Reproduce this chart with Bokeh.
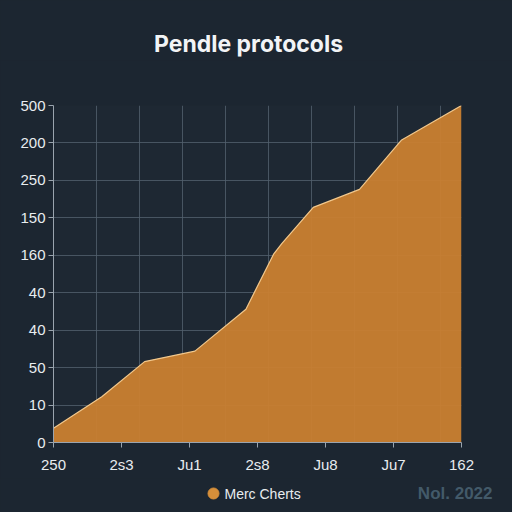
from bokeh.plotting import figure
from bokeh.layouts import column
from bokeh.models import FixedTicker, Range1d, Grid, ColumnDataSource
from bokeh.core.properties import value
from bokeh.embed import file_html
from bokeh.resources import INLINE

# ---- data ----
title_text = "Pendle protocols"
series_name = "Merc Cherts"
footer_text = "Nol. 2022"
x_tick_labels = ["250", "2s3", "Ju1", "2s8", "Ju8", "Ju7", "162"]
y_tick_labels = ["0", "10", "50", "40", "40", "160", "150", "250", "200", "500"]
x_vals = [0.0, 0.71, 1.34, 2.08, 2.83, 3.24, 3.36, 3.82, 4.50, 5.12, 6.0]
y_vals = [19, 61, 108, 122, 178, 252, 266, 314, 338, 404, 450]

# ---- styles ----
BG = "#1c2631"
FRAME_BG = "#1e2833"
GRID = "#52606e"
AXIS = "#9aa4ae"
TEXT = "#e8ecef"
FILL = "#ca8030"
EDGE = "#f2c88c"
DOT = "#d68f3a"
FOOT = "#435a69"


def strip(height):
    s = figure(width=512, height=height, output_backend="svg", toolbar_location=None,
               x_range=Range1d(0, 512), y_range=Range1d(0, height),
               min_border=0, x_axis_type=None, y_axis_type=None, tools="")
    s.frame_align = False
    s.background_fill_color = BG
    s.border_fill_color = BG
    s.outline_line_color = None
    s.grid.visible = False
    return s


x_ticks = list(range(len(x_tick_labels)))
y_ticks = [i * 50 for i in range(len(y_tick_labels))]

# title strip
t = strip(60)
t.text(x=[248], y=[17], text=[title_text], text_align="center",
       text_baseline="middle", text_color="#f2f4f6",
       text_font=value("Inter"), text_font_style="bold", text_font_size="23px")

p = figure(width=512, height=418, output_backend="svg", toolbar_location=None,
           tools="", x_range=Range1d(0, x_ticks[-1]), y_range=Range1d(0, y_ticks[-1]),
           min_border_left=53, min_border_right=51, min_border_top=45,
           min_border_bottom=36)
p.frame_align = False
p.background_fill_color = FRAME_BG
p.border_fill_color = BG
p.outline_line_color = None

src = ColumnDataSource(dict(x=x_vals, y=y_vals, y0=[0] * len(x_vals)))
p.varea(x="x", y1="y0", y2="y", source=src, fill_color=FILL, fill_alpha=0.95)
p.line(x="x", y="y", source=src, line_color=EDGE, line_width=1.2)

# axes
p.xaxis.ticker = FixedTicker(ticks=x_ticks)
p.xaxis.major_label_overrides = {t_: l for t_, l in zip(x_ticks, x_tick_labels)}
p.yaxis.ticker = FixedTicker(ticks=y_ticks)
p.yaxis.major_label_overrides = {t_: l for t_, l in zip(y_ticks, y_tick_labels)}
for ax in (p.xaxis, p.yaxis):
    ax.axis_line_color = AXIS
    ax.major_tick_line_color = AXIS
    ax.major_tick_out = 5
    ax.major_tick_in = 0
    ax.minor_tick_line_color = None
    ax.major_label_text_color = TEXT
    ax.major_label_text_font = "Liberation Sans"
    ax.major_label_text_font_size = "15px"
p.xaxis.major_label_standoff = 8
p.yaxis.major_label_standoff = 3

# grid
p.xgrid.visible = False
p.ygrid.grid_line_color = GRID
p.ygrid.grid_line_alpha = 0.8
vgrid_step = x_ticks[-1] / 9.49
vgrid = Grid(dimension=0, ticker=FixedTicker(ticks=[i * vgrid_step for i in range(10)]),
             grid_line_color=GRID, grid_line_alpha=0.8)
p.add_layout(vgrid)

# footer strip with legend and note
f = strip(34)
f.scatter(x=[213], y=[19], size=11, color=DOT)
f.text(x=[224], y=[19], text=[series_name], text_align="left",
       text_baseline="middle", text_color=TEXT,
       text_font=value("Liberation Sans"), text_font_size="14px")
f.text(x=[492], y=[19], text=[footer_text], text_align="right",
       text_baseline="middle", text_color=FOOT,
       text_font=value("Liberation Sans"), text_font_style="bold",
       text_font_size="17px")

layout = column(t, p, f, spacing=0)
layout.styles = {"background-color": BG}
html = file_html(layout, INLINE)
html = html.replace("<body>", '<body style="background:%s;">' % BG, 1)
open("out.html", "w").write(html)
